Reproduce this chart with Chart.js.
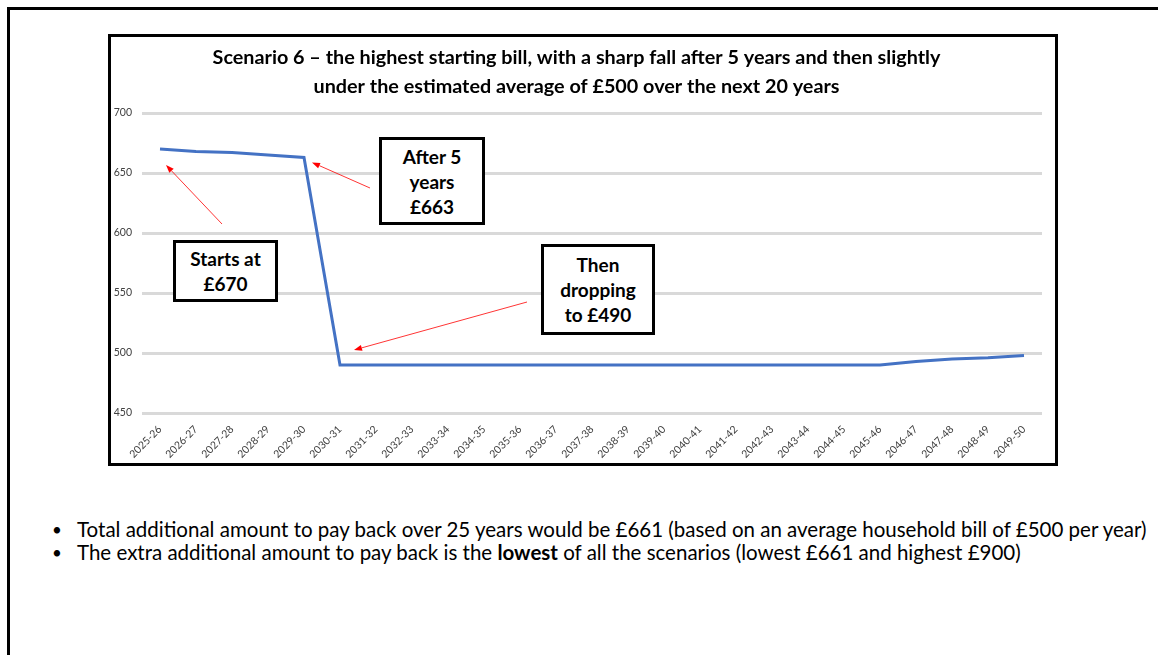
<!DOCTYPE html>
<html>
<head>
<meta charset="utf-8">
<script src="https://cdn.jsdelivr.net/npm/chart.js@4.4.1/dist/chart.umd.min.js"></script>
<style>
  html, body { margin: 0; padding: 0; background: #fff; }
  body { width: 1158px; height: 655px; position: relative; overflow: hidden; font-family: Lato, "Open Sans", sans-serif; }
  .frame { position: absolute; left: 7px; top: 7px; width: 1200px; height: 700px; border-top: 3px solid #000; border-left: 3px solid #000; }
  .chartbox { position: absolute; left: 108px; top: 34px; width: 944px; height: 426px; border: 3px solid #000; background: #fff; }
  .chartbox canvas { display: block; }
  .note { position: absolute; box-sizing: border-box; border: 3px solid #000; background: #fff; font-weight: 700; font-size: 19px; line-height: 25px; text-align: center; color: #000; display: flex; align-items: center; justify-content: center; }
  .bullets { position: absolute; left: 52px; top: 518px; margin: 0; padding: 0; list-style: none; font-size: 20.5px; line-height: 23px; color: #000; }
  .bullets li { position: relative; padding-left: 25px; white-space: nowrap; }
  .bullets li::before { content: "\2022"; position: absolute; left: 0; font-size: 17px; }
</style>
</head>
<body>
<div class="frame"></div>
<div class="chartbox"><canvas id="c" width="944" height="426"></canvas></div>

<div class="note" style="left:379px; top:137px; width:106px; height:88px;">After 5<br>years<br>£663</div>
<div class="note" style="left:173px; top:240px; width:105px; height:62px;">Starts at<br>£670</div>
<div class="note" style="left:541px; top:244px; width:114px; height:91px;">Then<br>dropping<br>to £490</div>

<ul class="bullets">
  <li>Total additional amount to pay back over 25 years would be £661 (based on an average household bill of £500 per year)</li>
  <li>The extra additional amount to pay back is the <b>lowest</b> of all the scenarios (lowest £661 and highest £900)</li>
</ul>

<script>
// Financial years shown along the bottom axis
const years = [
  "2025-26", "2026-27", "2027-28", "2028-29", "2029-30", "2030-31", "2031-32",
  "2032-33", "2033-34", "2034-35", "2035-36", "2036-37", "2037-38", "2038-39",
  "2039-40", "2040-41", "2041-42", "2042-43", "2043-44", "2044-45", "2045-46",
  "2046-47", "2047-48", "2048-49", "2049-50"
];

// Annual household bill (£) under scenario 6
const bill = [
  670, 668, 667, 665, 663, 490, 490,
  490, 490, 490, 490, 490, 490, 490,
  490, 490, 490, 490, 490, 490, 490,
  493, 495, 496, 498
];

// Value axis ticks
const yTicks = [450, 500, 550, 600, 650, 700];

const titleLines = [
  "Scenario 6 \u2013 the highest starting bill, with a sharp fall after 5 years and then slightly",
  "under the estimated average of £500 over the next 20 years"
];

// Red pointer lines from each call-out towards the line (tail is a page position, tip is offset from the point)
const pointers = [
  { index: 0, dx: 6, dy: 16, tail: [222, 224] },
  { index: 4, dx: 8, dy: 5, tail: [370, 188] },
  { index: 5, dx: 14, dy: -15, tail: [527, 302] }
];

const pointerPlugin = {
  id: 'pointers',
  afterDatasetsDraw(chart) {
    const ctx = chart.ctx;
    const xs = chart.scales.x, ys = chart.scales.y;
    const box = chart.canvas.getBoundingClientRect();
    ctx.save();
    ctx.strokeStyle = '#FF0000';
    ctx.fillStyle = '#FF0000';
    ctx.lineWidth = 0.8;
    pointers.forEach(p => {
      const tx = xs.getPixelForValue(p.index) + p.dx;
      const ty = ys.getPixelForValue(bill[p.index]) + p.dy;
      const sx = p.tail[0] - box.left;
      const sy = p.tail[1] - box.top;
      const ang = Math.atan2(ty - sy, tx - sx);
      const head = 8, wing = 3;
      const bx = tx - head * Math.cos(ang), by = ty - head * Math.sin(ang);
      ctx.beginPath();
      ctx.moveTo(sx, sy);
      ctx.lineTo(bx, by);
      ctx.stroke();
      ctx.beginPath();
      ctx.moveTo(tx, ty);
      ctx.lineTo(bx + wing * Math.sin(ang), by - wing * Math.cos(ang));
      ctx.lineTo(bx - wing * Math.sin(ang), by + wing * Math.cos(ang));
      ctx.closePath();
      ctx.fill();
    });
    ctx.restore();
  }
};

new Chart(document.getElementById('c'), {
  type: 'line',
  data: {
    labels: years,
    datasets: [{
      data: bill,
      borderColor: '#4472C4',
      borderWidth: 3,
      pointRadius: 0,
      tension: 0,
      fill: false
    }]
  },
  options: {
    responsive: false,
    animation: false,
    devicePixelRatio: 1,
    layout: { padding: { left: 0, right: 13, top: 0, bottom: 0 } },
    plugins: {
      legend: { display: false },
      tooltip: { enabled: false },
      title: {
        display: true,
        text: titleLines,
        color: '#000',
        font: { family: 'Lato', size: 19.8, weight: 'bold', lineHeight: 29 / 19.8 },
        padding: { top: 6, bottom: 12 }
      }
    },
    scales: {
      x: {
        offset: true,
        grid: { display: false },
        border: { display: false },
        ticks: {
          autoSkip: false,
          maxRotation: 45,
          minRotation: 45,
          padding: 2,
          color: '#404040',
          font: { family: 'Lato', size: 10.5 }
        },
        afterFit(s) { s.height = 50; }
      },
      y: {
        min: 450,
        max: 700,
        afterBuildTicks(s) { s.ticks = yTicks.map(v => ({ value: v })); },
        grid: { color: '#D9D9D9', lineWidth: 3, drawTicks: false },
        border: { display: false },
        ticks: {
          padding: 10,
          color: '#404040',
          font: { family: 'Lato', size: 10.5 }
        },
        afterFit(s) { s.width = 31; }
      }
    }
  },
  plugins: [pointerPlugin]
});
</script>
</body>
</html>
